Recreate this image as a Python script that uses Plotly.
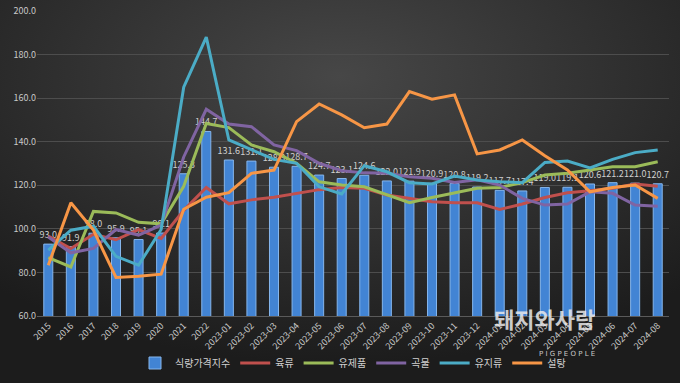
import plotly.graph_objects as go
import base64

categories = ['2015', '2016', '2017', '2018', '2019', '2020', '2021', '2022',
              '2023-01', '2023-02', '2023-03', '2023-04', '2023-05', '2023-06',
              '2023-07', '2023-08', '2023-09', '2023-10', '2023-11', '2023-12',
              '2024-01', '2024-02', '2024-03', '2024-04', '2024-05', '2024-06',
              '2024-07', '2024-08']

food_index = [93.0, 91.9, 98.0, 95.9, 95.1, 98.1, 125.3, 144.7, 131.6, 131.1, 128.3, 128.7,
              124.7, 123.1, 124.6, 122.0, 121.9, 120.9, 120.8, 119.2, 117.7, 117.4, 119.0,
              119.1, 120.6, 121.2, 121.0, 120.7]
meat = [96.7, 91.0, 97.5, 95.0, 99.7, 95.6, 108.5, 119.0, 111.5, 113.3, 114.5, 116.4, 118.0,
        119.0, 118.6, 115.5, 114.0, 112.4, 112.0, 112.0, 108.9, 111.4, 114.4, 116.6, 117.5,
        118.6, 120.6, 119.6]
dairy = [86.8, 82.5, 108.0, 107.3, 103.0, 102.3, 119.5, 148.4, 146.5, 138.5, 135.4, 130.1,
         121.6, 120.1, 119.3, 115.5, 112.0, 114.4, 116.6, 118.6, 119.0, 121.2, 124.7, 125.5,
         127.0, 128.5, 128.5, 130.8]
cereals = [96.3, 89.0, 91.0, 99.7, 97.1, 101.7, 133.0, 154.9, 148.1, 146.9, 138.5, 135.9,
           130.1, 126.7, 125.7, 125.5, 123.9, 123.2, 121.3, 122.5, 120.1, 114.0, 110.9, 111.4,
           117.0, 116.3, 110.9, 110.4]
oils = [90.2, 99.4, 101.2, 87.4, 83.3, 99.7, 165.0, 188.0, 140.8, 136.2, 131.9, 130.1, 119.3,
        116.0, 129.0, 126.2, 121.2, 120.6, 124.2, 122.4, 121.6, 121.2, 130.5, 131.1, 128.0,
        131.9, 135.0, 136.2]
sugar = [83.3, 112.0, 99.4, 77.7, 78.3, 79.2, 109.0, 114.5, 116.6, 125.5, 127.0, 149.2, 157.3,
         152.3, 146.4, 148.1, 163.0, 159.5, 161.5, 134.4, 136.2, 140.8, 133.6, 127.0, 117.0,
         119.0, 120.1, 114.0]

y_ticks = [60, 80, 100, 120, 140, 160, 180, 200]
y_tick_labels = ['60.0', '80.0', '100.0', '120.0', '140.0', '160.0', '180.0', '200.0']

line_series = [
    ('육류', meat, '#c0504d'),
    ('유제품', dairy, '#9bbb59'),
    ('곡물', cereals, '#8064a2'),
    ('유지류', oils, '#4bacc6'),
    ('설탕', sugar, '#f79646'),
]

FONT = 'Noto Sans CJK KR, Noto Sans, sans-serif'

fig = go.Figure()
fig.add_trace(go.Bar(
    x=categories, y=food_index, name='식량가격지수',
    marker=dict(color='#4284d4', line=dict(color='#86b6ec', width=1)),
    width=0.4,
    text=[f'{v:.1f}' for v in food_index], textposition='outside',
    textfont=dict(color='#cfcfcf', size=9, family=FONT),
    constraintext='none',
    cliponaxis=False,
))
for name, vals, color in line_series:
    fig.add_trace(go.Scatter(
        x=categories, y=vals, name=name, mode='lines',
        line=dict(color=color, width=3),
    ))

W, H = 680, 383
L, T = 37, 11
R = W - 669
B = H - 316
pw = W - L - R
ph = H - T - B

svg = ('<svg xmlns="http://www.w3.org/2000/svg" width="%d" height="%d">'
       '<defs><radialGradient id="g" cx="50%%" cy="20%%" r="75%%">'
       '<stop offset="0%%" stop-color="#474747"/>'
       '<stop offset="100%%" stop-color="#1c1c1c"/></radialGradient></defs>'
       '<rect width="%d" height="%d" fill="url(#g)"/></svg>') % (W, H, W, H)
src = 'data:image/svg+xml;base64,' + base64.b64encode(svg.encode()).decode()


def py(pix):
    return (T + ph - pix) / ph


def px(pix):
    return (pix - L) / pw


fig.update_layout(
    width=W, height=H,
    margin=dict(l=L, r=R, t=T, b=B, autoexpand=False),
    paper_bgcolor='#2c2c2c', plot_bgcolor='rgba(0,0,0,0)',
    font=dict(family=FONT, color='#d0d0d0', size=9),
    showlegend=True,
    legend=dict(orientation='h', x=0.5, xanchor='center', y=py(363),
                yanchor='middle', font=dict(size=10, color='#d0d0d0'),
                bgcolor='rgba(0,0,0,0)', traceorder='normal'),
    images=[dict(source=src, xref='paper', yref='paper', x=-L / pw, y=1 + T / ph,
                 sizex=W / pw, sizey=H / ph, xanchor='left', yanchor='top',
                 sizing='stretch', layer='below')],
    xaxis=dict(type='category', tickangle=-45, tickfont=dict(size=9, color='#c8c8c8'),
               showgrid=False, showline=True, linecolor='#5a5a5a', ticks='',
               automargin=False, range=[-0.5, len(categories) - 0.5]),
    yaxis=dict(range=[60, 200], tickvals=y_ticks, ticktext=y_tick_labels,
               tickfont=dict(size=9, color='#c8c8c8'), showgrid=True, automargin=False,
               gridcolor='#4d4d4d', gridwidth=1, zeroline=False, showline=False, ticks=''),
    annotations=[
        dict(text='<b>돼지와사람</b>', xref='paper', yref='paper',
             x=px(597), y=py(336), showarrow=False,
             font=dict(size=22, color='rgba(235,235,235,0.85)', family=FONT)),
        dict(text='P I G P E O P L E', xref='paper', yref='paper',
             x=px(597), y=py(360), showarrow=False,
             font=dict(size=7, color='rgba(230,230,230,0.85)', family='DejaVu Sans')),
    ],
)

fig.write_html('out.html',
               config={'displayModeBar': False},
               post_script="document.body.style.margin='0';"
                           "document.body.style.background='#1c1c1c';"
                           "document.body.style.overflow='hidden';")
